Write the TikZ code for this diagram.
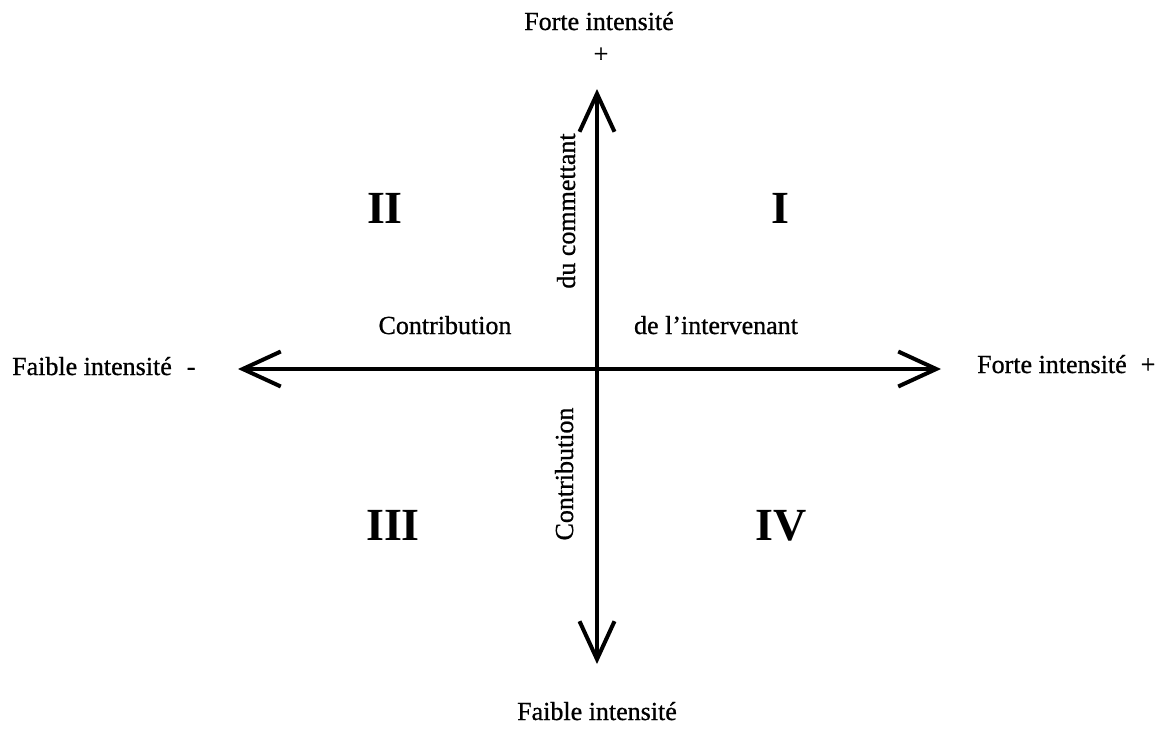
\documentclass[tikz,border=0pt]{standalone}
\usepackage{fontspec}
\setmainfont{Liberation Serif}
\font\txtf="Liberation Serif:embolden=0.8" at 26pt
\usetikzlibrary{arrows.meta}
\begin{document}
\begin{tikzpicture}[x=1pt,y=-1pt,
  lbl/.style={inner sep=0pt,font=\txtf},
  rom/.style={inner sep=0pt,anchor=base,font=\bfseries\fontsize{46}{52}\selectfont},
  axis/.style={line width=4pt,{Straight Barb[length=38pt,width=35pt]}-{Straight Barb[length=38pt,width=35pt]}}]
\useasboundingbox (0,0) rectangle (1161,742);
% axis ends
\coordinate (N) at (597,89);
\coordinate (S) at (597,664);
\coordinate (W) at (238,369);
\coordinate (E) at (941,369);
\draw[axis] (S) -- (N);
\draw[axis] (W) -- (E);
% end labels
\node[lbl,anchor=base] (tl) at (599,30) {Forte intensité};
\node[lbl] (tp) at (601,55) {+};
\node[lbl,anchor=base] (bl) at (597,720) {Faible intensité};
\node[lbl,anchor=base west] (ll) at (12,375) {Faible intensité\hspace{15pt}-};
\node[lbl,anchor=base west] (rl) at (977,373) {Forte intensité\hspace{14pt}+};
% axis texts
\node[lbl,anchor=base] (c1) at (445,334) {Contribution};
\node[lbl,anchor=base] (c2) at (716,334) {de l’intervenant};
\node[lbl,anchor=base,rotate=90] (c3) at (575,211) {du commettant};
\node[lbl,anchor=base,rotate=90] (c4) at (573,474) {Contribution};
% quadrants
\node[rom] (q2) at (385,223) {II};
\node[rom] (q1) at (780,223) {I};
\node[rom] (q3) at (393,540) {III};
\node[rom] (q4) at (781,540) {IV};
\end{tikzpicture}
\end{document}
